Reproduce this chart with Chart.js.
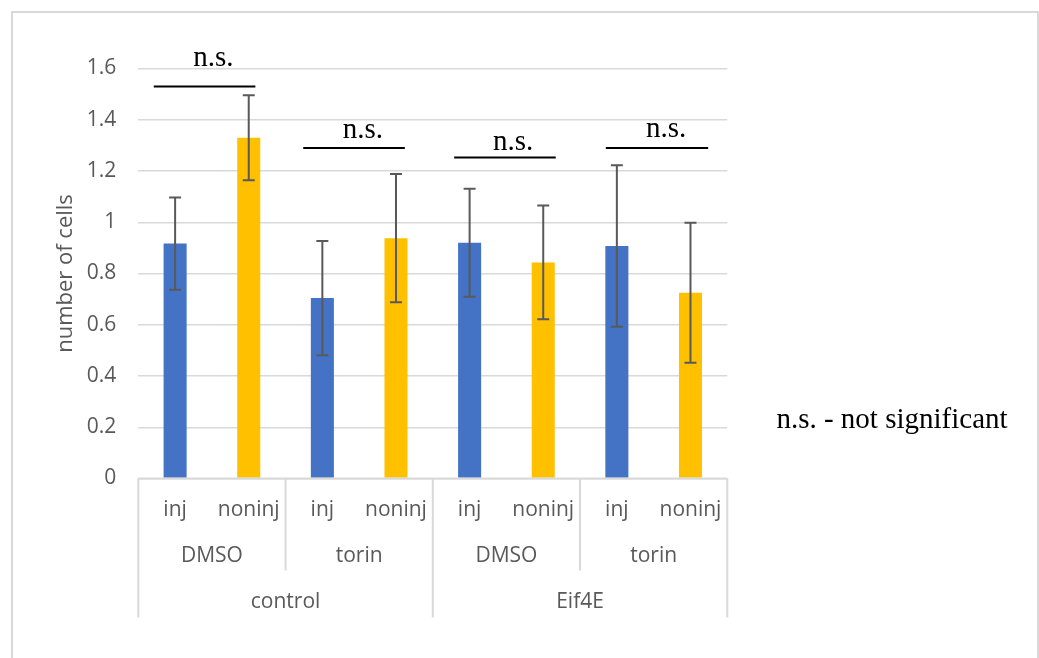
<!DOCTYPE html>
<html>
<head>
<meta charset="utf-8">
<title>number of cells</title>
<script src="https://cdn.jsdelivr.net/npm/chart.js@4.4.0/dist/chart.umd.min.js"></script>
<style>
    html, body { margin: 0; padding: 0; background: #fff; }
    #chart { display: block; }
</style>
</head>
<body>
<canvas id="chart" width="1039" height="658"></canvas>
<script>
(function () {
    "use strict";

    var cellLabels = ["inj", "noninj", "inj", "noninj", "inj", "noninj", "inj", "noninj"];
    var treatments = ["DMSO", "torin", "DMSO", "torin"];
    var groups = ["control", "Eif4E"];

    var means = [0.917, 1.330, 0.704, 0.938, 0.920, 0.843, 0.907, 0.725];
    var errors = [0.180, 0.166, 0.223, 0.250, 0.211, 0.222, 0.315, 0.273];

    var yMax = 1.6;
    var yStep = 0.2;

    // n.s. brackets, in category index / value units
    var sigFrom = [-0.29, 1.74, 3.79, 5.85];
    var sigTo = [1.09, 3.12, 5.17, 7.24];
    var sigLevel = [1.530, 1.290, 1.253, 1.290];
    var sigTextAt = [0.52, 2.55, 4.59, 6.67];
    var sigTextLevel = [1.608, 1.328, 1.281, 1.332];

    var barColors = ["#4472C4", "#FFC000"];
    var textGray = "#595959";
    var lineGray = "#d9d9d9";

    var frame = {
        id: "frame",
        beforeDraw: function (chart) {
            var ctx = chart.ctx;
            ctx.save();
            ctx.strokeStyle = lineGray;
            ctx.lineWidth = 2;
            ctx.strokeRect(12, 12, 1026, 700);
            ctx.restore();
        }
    };

    var errorBars = {
        id: "errorBars",
        afterDatasetsDraw: function (chart) {
            var ctx = chart.ctx;
            var y = chart.scales.y;
            var bars = chart.getDatasetMeta(0).data;
            ctx.save();
            ctx.strokeStyle = "#595959";
            ctx.lineWidth = 2;
            bars.forEach(function (bar, i) {
                var hi = y.getPixelForValue(means[i] + errors[i]);
                var lo = y.getPixelForValue(means[i] - errors[i]);
                ctx.beginPath();
                ctx.moveTo(bar.x, hi);
                ctx.lineTo(bar.x, lo);
                ctx.moveTo(bar.x - 6, hi);
                ctx.lineTo(bar.x + 6, hi);
                ctx.moveTo(bar.x - 6, lo);
                ctx.lineTo(bar.x + 6, lo);
                ctx.stroke();
            });
            ctx.restore();
        }
    };

    var groupAxis = {
        id: "groupAxis",
        afterDraw: function (chart) {
            var ctx = chart.ctx;
            var x = chart.scales.x;
            var y = chart.scales.y;
            var area = chart.chartArea;
            var y0 = y.getPixelForValue(0);
            var i;

            ctx.save();
            ctx.strokeStyle = lineGray;
            ctx.lineWidth = 2;
            ctx.beginPath();
            ctx.moveTo(area.left, y0);
            ctx.lineTo(area.right, y0);
            for (i = 0; i <= cellLabels.length; i += 2) {
                var bx = x.getPixelForValue(i - 0.5);
                ctx.moveTo(bx, y0);
                ctx.lineTo(bx, y0 + (i % 4 === 0 ? 139 : 92));
            }
            ctx.stroke();

            ctx.fillStyle = textGray;
            ctx.font = "21px 'Open Sans'";
            ctx.textAlign = "center";
            ctx.textBaseline = "middle";
            cellLabels.forEach(function (lab, k) {
                ctx.fillText(lab, x.getPixelForValue(k), y0 + 32);
            });
            treatments.forEach(function (lab, k) {
                ctx.fillText(lab, x.getPixelForValue(k * 2 + 0.5), y0 + 78);
            });
            groups.forEach(function (lab, k) {
                ctx.fillText(lab, x.getPixelForValue(k * 4 + 1.5), y0 + 124);
            });

            // significance brackets
            ctx.strokeStyle = "#000";
            ctx.fillStyle = "#000";
            ctx.lineWidth = 2;
            ctx.font = "29px 'Liberation Serif'";
            ctx.textBaseline = "alphabetic";
            for (i = 0; i < sigFrom.length; i++) {
                var ly = y.getPixelForValue(sigLevel[i]);
                ctx.beginPath();
                ctx.moveTo(x.getPixelForValue(sigFrom[i]), ly);
                ctx.lineTo(x.getPixelForValue(sigTo[i]), ly);
                ctx.stroke();
                ctx.fillText("n.s.", x.getPixelForValue(sigTextAt[i]), y.getPixelForValue(sigTextLevel[i]));
            }

            ctx.fillText("n.s. - not significant", 892, 428);
            ctx.restore();
        }
    };

    new Chart(document.getElementById("chart").getContext("2d"), {
        type: "bar",
        data: {
            labels: cellLabels,
            datasets: [{
                data: means,
                backgroundColor: cellLabels.map(function (l, i) { return barColors[i % 2]; }),
                borderWidth: 0,
                barPercentage: 0.313,
                categoryPercentage: 1
            }]
        },
        options: {
            responsive: false,
            animation: false,
            layout: { padding: { top: 68.5, right: 311.7, bottom: 179.5, left: 0 } },
            plugins: {
                legend: { display: false },
                tooltip: { enabled: false }
            },
            scales: {
                x: {
                    display: false
                },
                y: {
                    min: 0,
                    max: yMax,
                    border: { display: false },
                    grid: { color: lineGray, lineWidth: 1.5, drawTicks: false },
                    afterFit: function (scale) { scale.width = 138.3; },
                    ticks: {
                        stepSize: yStep,
                        padding: 22,
                        color: textGray,
                        font: { family: "'Open Sans'", size: 21 },
                        callback: function (v) { return String(Math.round(v * 10) / 10); }
                    },
                    title: {
                        display: true,
                        text: "number of cells",
                        color: textGray,
                        font: { family: "'Open Sans'", size: 22 },
                        padding: { top: 53, bottom: 0 }
                    }
                }
            }
        },
        plugins: [frame, errorBars, groupAxis]
    });
})();
</script>
</body>
</html>
